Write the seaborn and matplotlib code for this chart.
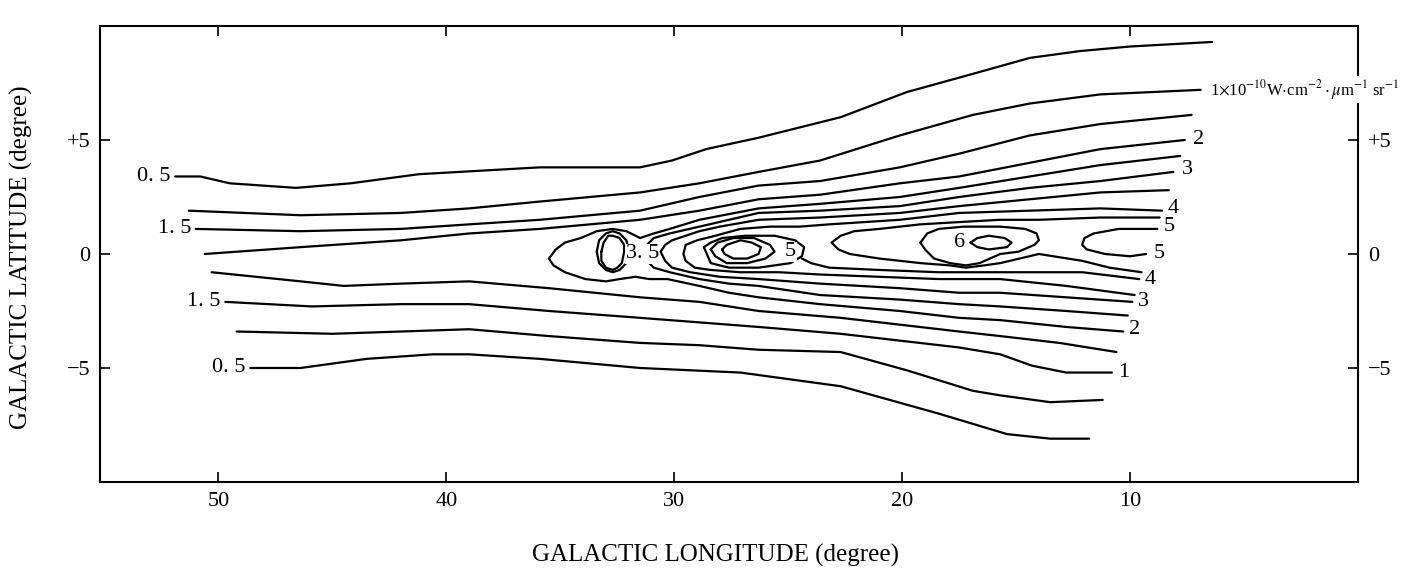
"""
Galactic-plane surface brightness contour map, redrawn with seaborn.
Contour lines are read off the scanned figure as (longitude, latitude) pairs.
"""

import matplotlib
matplotlib.use("Agg")
import matplotlib.pyplot as plt
import pandas as pd
import seaborn as sns

# --- open contours running in from the left edge (lon, lat in degrees) ---
upper_05 = [(51.9, 3.4), (50.8, 3.4), (49.5, 3.1), (46.6, 2.9), (44.2, 3.1), (41.2, 3.5),
            (35.9, 3.8), (31.5, 3.8), (30.1, 4.1), (28.6, 4.6), (26.3, 5.1), (22.7, 6.0),
            (19.8, 7.1), (16.9, 7.9), (14.4, 8.6), (12.2, 8.9), (10.0, 9.1), (6.4, 9.3)]
upper_1 = [(51.3, 1.9), (46.4, 1.7), (42.0, 1.8), (39.0, 2.0), (35.9, 2.3), (31.5, 2.7),
           (28.9, 3.1), (26.3, 3.6), (23.6, 4.1), (20.1, 5.2), (16.9, 6.1), (14.4, 6.6),
           (11.3, 7.0), (6.9, 7.2)]
upper_15 = [(51.0, 1.1), (46.4, 1.0), (42.0, 1.1), (39.0, 1.3), (35.9, 1.5), (31.5, 1.9),
            (28.9, 2.5), (26.3, 3.0), (23.6, 3.2), (20.1, 3.8), (17.5, 4.4), (14.4, 5.2),
            (11.3, 5.7), (7.3, 6.1)]
upper_2 = [(50.6, 0.0), (46.4, 0.3), (42.0, 0.6), (39.0, 0.9), (35.9, 1.1), (31.5, 1.5),
           (28.9, 1.9), (26.3, 2.4), (23.6, 2.6), (20.1, 3.1), (17.5, 3.4), (14.4, 4.0),
           (11.3, 4.6), (7.6, 5.0)]
lower_2 = [(50.3, -0.8), (46.4, -1.2), (44.5, -1.4), (42.0, -1.3), (39.0, -1.2), (35.5, -1.5),
           (31.5, -1.9), (28.9, -2.1), (26.3, -2.5), (22.7, -2.8), (20.1, -3.1), (17.5, -3.4),
           (15.7, -3.6), (13.1, -3.9), (10.6, -4.3)]
lower_15 = [(49.7, -2.1), (45.9, -2.3), (42.0, -2.2), (39.0, -2.2), (35.5, -2.5), (31.5, -2.8),
            (28.9, -3.0), (26.3, -3.2), (22.7, -3.5), (20.1, -3.8), (17.5, -4.1), (15.7, -4.4),
            (14.3, -4.9), (12.8, -5.2), (10.8, -5.2)]
lower_1 = [(49.2, -3.4), (45.0, -3.5), (39.0, -3.3), (35.5, -3.6), (31.5, -3.9), (28.9, -4.0),
           (26.3, -4.2), (22.7, -4.3), (19.8, -5.1), (16.9, -6.0), (15.7, -6.2), (13.5, -6.5),
           (11.2, -6.4)]
lower_05 = [(48.6, -5.0), (46.4, -5.0), (43.5, -4.6), (40.6, -4.4), (39.0, -4.4), (35.9, -4.6),
            (31.5, -5.0), (27.1, -5.2), (22.7, -5.8), (18.4, -7.0), (15.4, -7.9), (13.5, -8.1),
            (11.8, -8.1)]

# --- contours folding back around the ridge (upper end -> nose -> lower end) ---
fold_25 = [(7.8, 4.3), (11.3, 3.9), (14.4, 3.4), (17.5, 2.9), (20.1, 2.5), (23.6, 2.2),
           (26.3, 2.0), (28.9, 1.5), (30.2, 1.1), (30.9, 0.9), (31.5, 0.7), (32.1, 1.0),
           (32.7, 1.1), (33.4, 1.0), (34.1, 0.7), (34.8, 0.5), (35.2, 0.2), (35.5, -0.2),
           (35.3, -0.5), (34.8, -0.8), (33.9, -1.1), (33.0, -1.2), (32.4, -1.1), (31.7, -1.0),
           (31.1, -1.1), (30.3, -1.1), (28.9, -1.4), (27.6, -1.7), (26.3, -1.9), (23.6, -2.2),
           (20.1, -2.5), (17.5, -2.8), (15.7, -2.9), (12.8, -3.2), (10.3, -3.4)]
fold_3 = [(8.1, 3.6), (11.3, 3.2), (14.4, 2.9), (17.5, 2.5), (20.1, 2.1), (23.6, 1.9),
          (26.3, 1.8), (28.9, 1.2), (30.2, 0.9), (30.9, 0.7), (31.2, 0.4), (31.3, 0.0),
          (31.2, -0.3), (30.9, -0.6), (30.2, -0.8), (28.9, -1.1), (27.6, -1.3), (26.3, -1.4),
          (23.6, -1.8), (20.1, -2.0), (17.5, -2.2), (15.7, -2.3), (12.8, -2.5), (10.1, -2.7)]
fold_35 = [(8.3, 2.8), (11.3, 2.7), (14.4, 2.4), (17.5, 2.1), (20.1, 1.8), (23.6, 1.6),
           (26.3, 1.5), (28.0, 1.2), (28.9, 1.0), (29.5, 0.8), (30.1, 0.6), (30.4, 0.4),
           (30.6, 0.1), (30.4, -0.3), (30.1, -0.6), (29.3, -0.8), (28.0, -1.0), (26.3, -1.1),
           (23.6, -1.3), (20.1, -1.5), (17.5, -1.7), (15.7, -1.7), (12.8, -1.9), (9.9, -2.1)]
fold_4 = [(8.6, 1.9), (11.3, 2.0), (14.4, 1.9), (17.5, 1.8), (20.1, 1.5), (23.2, 1.3),
          (24.5, 1.2), (25.8, 1.2), (27.1, 1.1), (28.2, 0.8), (29.0, 0.6), (29.5, 0.4),
          (29.6, 0.0), (29.5, -0.3), (29.1, -0.6), (28.4, -0.7), (27.1, -0.8), (25.4, -0.8),
          (23.6, -0.9), (21.0, -1.0), (18.4, -1.1), (15.7, -1.1), (12.8, -1.4), (9.8, -1.8)]
fold_45 = [(8.7, 1.6), (11.3, 1.6), (14.0, 1.5), (15.7, 1.5), (17.5, 1.4), (19.2, 1.3),
           (21.0, 1.1), (22.1, 1.0), (22.7, 0.8), (23.1, 0.5), (22.8, 0.2), (22.3, 0.0),
           (21.0, -0.2), (19.2, -0.4), (17.9, -0.5), (17.2, -0.6), (16.4, -0.5), (15.7, -0.4),
           (14.0, 0.0), (12.1, -0.3), (10.9, -0.6), (9.5, -0.8)]
fold_5 = [(8.8, 1.1), (10.5, 1.1), (11.6, 0.9), (12.0, 0.7), (12.1, 0.4), (11.9, 0.2),
          (11.1, 0.0), (10.0, -0.1), (9.3, 0.0)]
tail_5 = [(24.4, -0.2), (24.0, -0.4), (23.2, -0.6), (21.0, -0.7), (18.4, -0.8), (15.7, -0.8),
          (12.1, -0.8), (9.6, -1.1)]

# --- closed contours ---
oval_outer = [(33.4, 0.1), (33.3, 0.6), (33.0, 0.9), (32.7, 1.0), (32.4, 0.9), (32.1, 0.6),
              (32.0, 0.1), (32.1, -0.4), (32.4, -0.7), (32.7, -0.8), (33.0, -0.7), (33.3, -0.4),
              (33.4, 0.1)]
oval_inner = [(33.2, 0.1), (33.1, 0.5), (32.9, 0.8), (32.7, 0.8), (32.4, 0.7), (32.2, 0.4),
              (32.2, 0.1), (32.3, -0.4), (32.5, -0.6), (32.7, -0.7), (33.0, -0.6), (33.2, -0.3),
              (33.2, 0.1)]
peak_5 = [(28.7, 0.3), (28.4, 0.5), (27.9, 0.7), (26.9, 0.8), (25.6, 0.8), (24.7, 0.6),
          (24.3, 0.3), (24.4, -0.1), (24.9, -0.4), (26.3, -0.6), (27.6, -0.6), (28.4, -0.4),
          (28.7, 0.3)]
peak_55 = [(28.4, 0.2), (28.1, 0.5), (27.4, 0.7), (26.5, 0.7), (25.8, 0.4), (25.6, 0.1),
           (26.0, -0.2), (26.8, -0.4), (27.7, -0.4), (28.2, -0.1), (28.4, 0.2)]
peak_6 = [(27.9, 0.2), (27.7, 0.4), (27.1, 0.6), (26.6, 0.5), (26.2, 0.3), (26.3, 0.0),
          (26.8, -0.2), (27.4, -0.2), (27.8, 0.0), (27.9, 0.2)]
east_55 = [(19.2, 0.5), (18.9, 0.9), (18.4, 1.1), (17.3, 1.2), (15.7, 1.2), (14.6, 1.1),
           (14.1, 0.9), (14.0, 0.6), (14.2, 0.4), (14.9, 0.1), (15.7, 0.0), (16.6, -0.4),
           (17.2, -0.5), (17.9, -0.4), (18.6, -0.2), (19.0, 0.2), (19.2, 0.5)]
east_6 = [(17.0, 0.5), (16.7, 0.7), (16.2, 0.8), (15.5, 0.7), (15.2, 0.5), (15.4, 0.3),
          (16.2, 0.2), (16.7, 0.3), (17.0, 0.5)]

# --- contour labels ---
left_label_text = ["0. 5", "1. 5", "1. 5", "0. 5"]
left_label_lon = [52.1, 51.2, 49.9, 48.8]
left_label_lat = [3.4, 1.1, -2.1, -5.0]
inner_label_text = ["3. 5", "5", "6"]
inner_label_lon = [31.4, 24.9, 17.5]
inner_label_lat = [0.0, 0.1, 0.5]
right_label_text = ["2", "3", "4", "5", "5", "4", "3", "2", "1"]
right_label_lon = [7.0, 7.5, 8.1, 8.3, 8.7, 9.1, 9.4, 9.8, 10.3]
right_label_lat = [5.0, 3.7, 2.0, 1.2, 0.0, -1.1, -2.1, -3.3, -5.2]
unit_label = r"1$\times$10$^{-10}$W$\cdot$cm$^{-2}\cdot\mu$m$^{-1}$ sr$^{-1}$"
unit_lon, unit_lat = 6.5, 7.2

lon_ticks = [50, 40, 30, 20, 10]
lat_ticks = [5, 0, -5]
lat_tick_labels = ["+5", "0", "\u22125"]


def build_frame() -> pd.DataFrame:
    lines = {
        "upper_05": upper_05, "upper_1": upper_1, "upper_15": upper_15, "upper_2": upper_2,
        "lower_2": lower_2, "lower_15": lower_15, "lower_1": lower_1, "lower_05": lower_05,
        "fold_25": fold_25, "fold_3": fold_3, "fold_35": fold_35, "fold_4": fold_4,
        "fold_45": fold_45, "fold_5": fold_5, "tail_5": tail_5,
        "oval_outer": oval_outer, "oval_inner": oval_inner,
        "peak_5": peak_5, "peak_55": peak_55, "peak_6": peak_6,
        "east_55": east_55, "east_6": east_6,
    }
    rows = [{"line": name, "lon": lon, "lat": lat}
            for name, pts in lines.items() for lon, lat in pts]
    return pd.DataFrame(rows)


sns.set_theme(style="ticks")
plt.rcParams["font.family"] = ["Liberation Serif", "DejaVu Serif"]
plt.rcParams["mathtext.fontset"] = "stix"
plt.rcParams["axes.edgecolor"] = "black"
plt.rcParams["axes.labelcolor"] = "black"
plt.rcParams["text.color"] = "black"
plt.rcParams["axes.linewidth"] = 1.5

fig = plt.figure(figsize=(14.02, 5.70), dpi=100)
ax = fig.add_axes([0.0713, 0.1544, 0.8973, 0.8000])

df = build_frame()
sns.lineplot(data=df, x="lon", y="lat", units="line", estimator=None, sort=False,
             color="black", linewidth=1.6, solid_joinstyle="round", ax=ax)

for s, x, y in zip(left_label_text, left_label_lon, left_label_lat):
    ax.text(x, y, s, ha="right", va="center", fontsize=16)
for s, x, y in zip(inner_label_text, inner_label_lon, inner_label_lat):
    ax.text(x, y, s, ha="center", va="center", fontsize=16,
            bbox=dict(facecolor="white", edgecolor="none", pad=0.3))
for s, x, y in zip(right_label_text, right_label_lon, right_label_lat):
    ax.text(x, y, s, ha="center", va="center", fontsize=16)
ax.text(unit_lon, unit_lat, unit_label, ha="left", va="center", fontsize=12,
        clip_on=False, zorder=10,
        bbox=dict(facecolor="white", edgecolor="none", pad=1.0))

ax.set_xlim(55.2, 0)
ax.set_ylim(-10, 10)
ax.set_xticks(lon_ticks)
ax.set_yticks(lat_ticks, labels=lat_tick_labels)
ax.tick_params(axis="both", direction="in", length=7, width=1.2, colors="black",
               labelsize=16, top=True, right=True, labelright=True, pad=7)

ax.set_xlabel("GALACTIC LONGITUDE (degree)", fontsize=18)
ax.set_ylabel("GALACTIC LATITUDE (degree)", fontsize=18)
ax.xaxis.set_label_coords(0.489, -0.135)
ax.yaxis.set_label_coords(-0.053, 0.493)

fig.savefig("out.png", dpi=100)
plt.close(fig)
